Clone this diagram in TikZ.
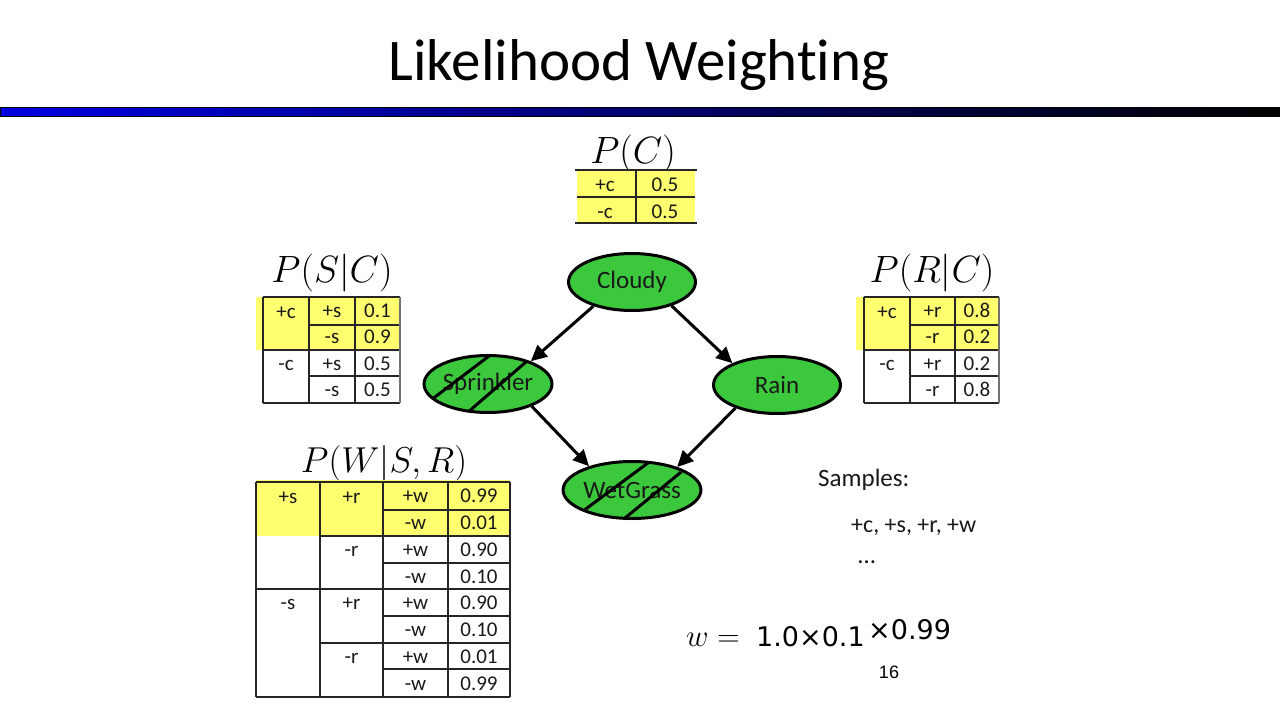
\RequirePackage{fix-cm}
\documentclass[tikz,border=0pt]{standalone}
\usepackage[no-math]{fontspec}
\setmainfont{Carlito}[Ligatures=NoCommon]
\newfontfamily\numfont{DejaVu Sans}
\newfontfamily\arialfont{Liberation Sans}
\usetikzlibrary{shapes.geometric,arrows.meta}
\definecolor{cptyellow}{RGB}{255,255,112}
\definecolor{nodegreen}{RGB}{60,200,60}
\definecolor{barblue}{RGB}{0,0,225}
\definecolor{txtdark}{RGB}{25,25,25}
\tikzset{
  tabtxt/.style={anchor=base, inner sep=0pt, font=\fontsize{21}{24}\selectfont, text=txtdark},
  tline/.style={draw=black!85, line width=1.3pt},
  tfill/.style={fill=cptyellow, draw=none},
  mathlbl/.style={anchor=base, inner sep=0pt, font=\fontsize{38}{44}\selectfont},
  bnode/.style={ellipse, draw=black, line width=3pt, fill=nodegreen, minimum width=127pt,
    minimum height=57pt, inner sep=0pt, font=\fontsize{25}{30}\selectfont, text=txtdark},
  arr/.style={line width=3pt, -{Triangle[length=16pt,width=15pt]}},
  slash/.style={line width=3pt, black},
  plain/.style={anchor=base west, inner sep=0pt, font=\fontsize{25}{30}\selectfont, text=txtdark}
}
\begin{document}
\begin{tikzpicture}[x=1pt,y=-1pt]
\useasboundingbox (0,0) rectangle (1280,720);
% title
\node[anchor=base, inner sep=0pt, font=\fontsize{59}{68}\selectfont] (title) at (639,80) {Likelihood Weighting};
% bar
\shade[left color=barblue, middle color=blue!60!black, right color=black] (0,107) rectangle (1280,116);
\draw[black, line width=1pt] (0.5,107) rectangle (1279.5,116);

% ---------- P(C)
\node[mathlbl] (lpc) at (633,163) {$P(C)$};
\path[tfill] (577,170) rectangle (695,223);
\draw[tline] (575,170) -- (697,170) (577,197) -- (695,197) (575,223) -- (697,223) (636,170) -- (636,223);
\node[tabtxt] (pc11) at (605,191.5) {+c};
\node[tabtxt] (pc12) at (665,191.5) {0.5};
\node[tabtxt] (pc21) at (605,218) {-c};
\node[tabtxt] (pc22) at (665,218) {0.5};

% ---------- P(S|C)
\node[mathlbl] (lps) at (332,282) {$P(S|C)$};
\path[tfill] (256,297) rectangle (400,350);
\draw[tline] (263,297) -- (400,297) (309,325) -- (400,325) (263,350) -- (400,350)
  (309,376) -- (400,376) (263,403) -- (400,403)
  (263,297) -- (263,403) (309,297) -- (309,403) (355,297) -- (355,403);
\draw[draw=black!55, line width=1.3pt] (400,297) -- (400,403);
\node[tabtxt] (ps1) at (286,318) {+c};
\node[tabtxt] (ps2) at (286,370) {-c};
\foreach \s/\p [count=\i] in {+s/0.1,-s/0.9,+s/0.5,-s/0.5}{
  \pgfmathsetmacro{\yb}{297+(\i-0.5)*26.5+7}
  \node[tabtxt] (pss\i) at (332,\yb) {\s};
  \node[tabtxt] (psp\i) at (377.5,\yb) {\p};
}

% ---------- P(R|C)
\node[mathlbl] (lpr) at (932,282) {$P(R|C)$};
\path[tfill] (856,297) rectangle (999,350);
\draw[tline] (864,297) -- (999,297) (910,325) -- (999,325) (864,350) -- (999,350)
  (910,376) -- (999,376) (864,403) -- (999,403)
  (864,297) -- (864,403) (910,297) -- (910,403) (955,297) -- (955,403);
\draw[draw=black!55, line width=1.3pt] (999,297) -- (999,403);
\node[tabtxt] (pr1) at (887,318) {+c};
\node[tabtxt] (pr2) at (887,370) {-c};
\foreach \s/\p [count=\i] in {+r/0.8,-r/0.2,+r/0.2,-r/0.8}{
  \pgfmathsetmacro{\yb}{297+(\i-0.5)*26.5+7}
  \node[tabtxt] (prs\i) at (932.5,\yb) {\s};
  \node[tabtxt] (prp\i) at (977,\yb) {\p};
}

% ---------- P(W|S,R)
\node[mathlbl, font=\fontsize{36}{42}\selectfont] (lpw) at (384,472) {$P(W|S,R)$};
\path[tfill] (256,480) rectangle (510,536);
\draw[tline] (256,482) -- (510,482) (383,510) -- (510,510) (320,536) -- (510,536)
  (383,563) -- (510,563) (256,589) -- (510,589) (383,616) -- (510,616)
  (320,643) -- (510,643) (383,669) -- (510,669) (256,697) -- (510,697)
  (256,482) -- (256,697) (320,482) -- (320,697) (383,482) -- (383,697)
  (448,482) -- (448,697) (510,482) -- (510,697);
\node[tabtxt] (pws1) at (288,503) {+s};
\node[tabtxt] (pws2) at (288,609.5) {-s};
\node[tabtxt] (pwr1) at (351.5,503) {+r};
\node[tabtxt] (pwr2) at (351.5,556.5) {-r};
\node[tabtxt] (pwr3) at (351.5,609.5) {+r};
\node[tabtxt] (pwr4) at (351.5,663) {-r};
\foreach \w/\p [count=\i] in {+w/0.99,-w/0.01,+w/0.90,-w/0.10,+w/0.90,-w/0.10,+w/0.01,-w/0.99}{
  \pgfmathsetmacro{\yb}{482+(\i-0.5)*26.875+7}
  \node[tabtxt] (pww\i) at (415.5,\yb) {\w};
  \node[tabtxt] (pwp\i) at (479,\yb) {\p};
}

% ---------- network
\node[bnode] (cloudy) at (632,282) {Cloudy};
\node[bnode] (sprinkler) at (488,384) {Sprinkler};
\node[bnode] (rain) at (777,385) {Rain};
\node[bnode] (wet) at (632,490) {WetGrass};

\begin{scope}
  \clip (488,384) ellipse [x radius=63.5, y radius=28.5];
  \draw[slash] (406,419) -- (522,331);
  \draw[slash] (445,432) -- (556,336);
\end{scope}
\begin{scope}
  \clip (632,490) ellipse [x radius=63.5, y radius=28.5];
  \draw[slash] (556,531) -- (679,440);
  \draw[slash] (597,541) -- (708,450);
\end{scope}

\draw[arr] (cloudy.212) -- (sprinkler.28);
\draw[arr] (cloudy.329) -- (rain.154);
\draw[arr] (sprinkler.333) -- (wet.151);
\draw[arr] (rain.209) -- (wet.27);

% ---------- samples
\node[plain] (samples) at (818,486) {Samples:};
\node[plain, font=\fontsize{24}{29}\selectfont] (sample1) at (851,532) {+c, +s, +r, +w};
\node[plain] (dots) at (858,563) {…};

% ---------- weight
\node[anchor=base west, inner sep=0pt, font=\fontsize{31}{36}\selectfont] (wlhs) at (686,646) {$w=$};
\node[anchor=base west, inner sep=0pt, font=\numfont\fontsize{27}{31}\selectfont] (wmid) at (756,646) {1.0×0.1};
\node[anchor=base west, inner sep=0pt, font=\numfont\fontsize{27}{31}\selectfont] (wend) at (868,639) {×0.99};

\node[inner sep=0pt, font=\arialfont\fontsize{18}{22}\selectfont] (pagenum) at (889,672) {16};
\end{tikzpicture}
\end{document}
